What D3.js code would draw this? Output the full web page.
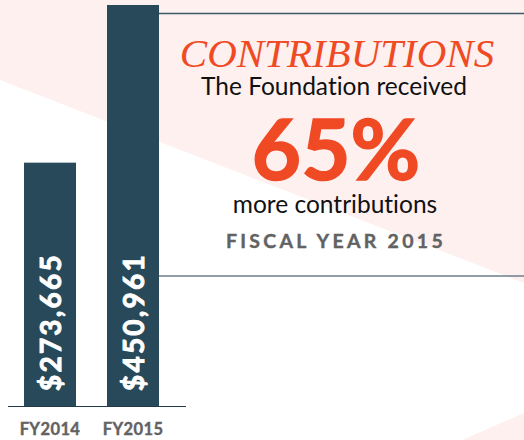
<!DOCTYPE html>
<html>
<head>
<meta charset="utf-8">
<script src="https://cdn.jsdelivr.net/npm/d3@7"></script>
<style>
  html, body { margin: 0; padding: 0; background: #fff; }
  svg { display: block; }
  text { font-variant-ligatures: none; }
</style>
</head>
<body>
<div id="chart"></div>
<script>
// contributions per fiscal year
var years = ["FY2014", "FY2015"];
var amounts = [273665, 450961];
var amountLabels = ["$273,665", "$450,961"];

var title = "CONTRIBUTIONS";
var headLines = ["The Foundation received", "65%", "more contributions", "FISCAL YEAR 2015"];

var width = 524, height = 440;
var baseY = 406, topY = 5;

var svg = d3.select("#chart").append("svg")
    .attr("width", width)
    .attr("height", height);

// pink background shapes
svg.append("polygon")
    .attr("points", "0,0 524,0 524,283 0,80")
    .attr("fill", "#fdf0ef");
svg.append("polygon")
    .attr("points", "462,440 524,413 524,440")
    .attr("fill", "#fdf0ef");

var x = d3.scaleBand()
    .domain(years)
    .range([24, 159])
    .paddingInner(0.3735)
    .paddingOuter(0);

var y = d3.scaleLinear()
    .domain([0, d3.max(amounts)])
    .range([baseY, topY]);

var data = years.map(function(d, i) {
    return { year: d, amount: amounts[i], label: amountLabels[i] };
});

svg.selectAll(".bar")
    .data(data)
  .enter().append("rect")
    .attr("class", "bar")
    .attr("fill", "#284959")
    .attr("x", function(d) { return x(d.year); })
    .attr("width", x.bandwidth())
    .attr("y", function(d) { return y(d.amount); })
    .attr("height", function(d) { return baseY - y(d.amount); });

// value labels rotated inside the bars
svg.selectAll(".val")
    .data(data)
  .enter().append("text")
    .attr("class", "val")
    .attr("transform", function(d) {
        return "translate(" + (x(d.year) + x.bandwidth() / 2 + 11) + "," + (baseY - 15) + ") rotate(-90)";
    })
    .attr("fill", "#fff")
    .attr("stroke", "#fff")
    .attr("stroke-width", 0.9)
    .style("font-family", "Lato, sans-serif")
    .style("font-weight", "700")
    .style("font-size", "28px")
    .style("letter-spacing", "2.2px")
    .text(function(d) { return d.label; });

// baseline
svg.append("line")
    .attr("x1", x.range()[0] - 16).attr("x2", x.range()[1] + 27)
    .attr("y1", baseY + 0.5).attr("y2", baseY + 0.5)
    .attr("stroke", "#1f3b49")
    .attr("stroke-width", 1.2);

// category labels
svg.selectAll(".cat")
    .data(years)
  .enter().append("text")
    .attr("class", "cat")
    .attr("x", function(d) { return x(d) + x.bandwidth() / 2; })
    .attr("y", 435)
    .attr("text-anchor", "middle")
    .attr("fill", "#626262")
    .attr("stroke", "#626262")
    .attr("stroke-width", 0.4)
    .style("font-family", "Lato, sans-serif")
    .style("font-weight", "700")
    .style("font-size", "16.5px")
    .style("letter-spacing", "0.4px")
    .text(function(d) { return d; });

// text box lines
svg.append("line")
    .attr("x1", 159).attr("x2", width)
    .attr("y1", 13.5).attr("y2", 13.5)
    .attr("stroke", "#3e5766").attr("stroke-width", 1.3);
svg.append("line")
    .attr("x1", 159).attr("x2", width)
    .attr("y1", 276).attr("y2", 276)
    .attr("stroke", "#6b7f8a").attr("stroke-width", 1.5);

svg.append("text")
    .attr("x", 337).attr("y", 67)
    .attr("text-anchor", "middle")
    .attr("fill", "#f04a25")
    .style("font-family", "'Liberation Serif', serif")
    .style("font-style", "italic")
    .style("font-size", "41px")
    .text(title);

svg.append("text")
    .attr("x", 334).attr("y", 95)
    .attr("text-anchor", "middle")
    .attr("fill", "#111")
    .style("font-family", "Lato, sans-serif")
    .style("font-size", "24.5px")
    .text(headLines[0]);

svg.append("text")
    .attr("x", 336).attr("y", 180)
    .attr("text-anchor", "middle")
    .attr("fill", "#f04a25")
    .attr("stroke", "#f04a25")
    .attr("stroke-width", 1.5)
    .style("font-family", "Lato, sans-serif")
    .style("font-weight", "700")
    .style("font-size", "85px")
    .text(headLines[1]);

svg.append("text")
    .attr("x", 335).attr("y", 213)
    .attr("text-anchor", "middle")
    .attr("fill", "#111")
    .style("font-family", "Lato, sans-serif")
    .style("font-size", "24.5px")
    .text(headLines[2]);

svg.append("text")
    .attr("x", 336).attr("y", 248)
    .attr("text-anchor", "middle")
    .attr("fill", "#626262")
    .attr("stroke", "#626262")
    .attr("stroke-width", 0.4)
    .style("font-family", "Lato, sans-serif")
    .style("font-weight", "700")
    .style("font-size", "19.5px")
    .style("letter-spacing", "3.3px")
    .text(headLines[3]);
</script>
</body>
</html>
